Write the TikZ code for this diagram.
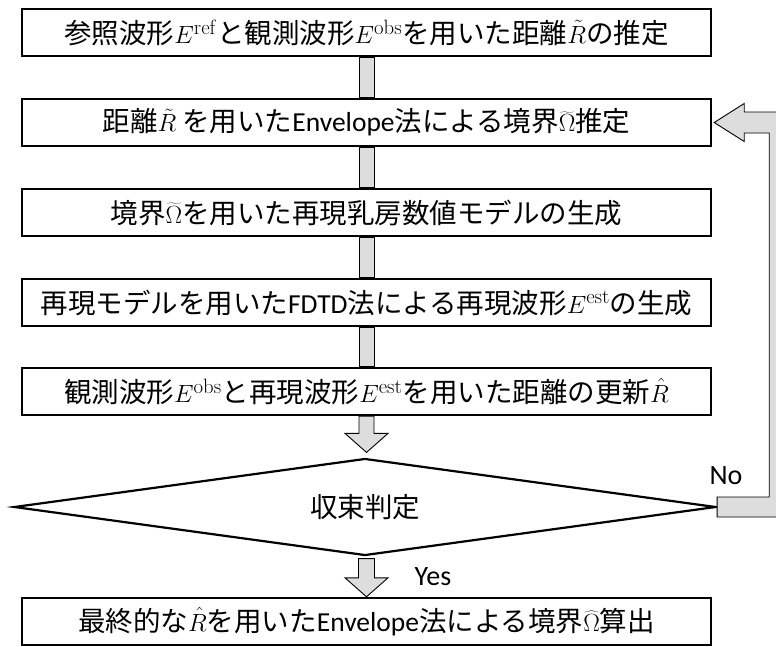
\documentclass[tikz,border=0pt]{standalone}
\usepackage[no-math]{fontspec}
\setmainfont{Carlito}
\newfontfamily\jp{Noto Sans CJK JP}
\newfontfamily\lat{Carlito}
\usetikzlibrary{calc,shapes.geometric}
\definecolor{shaftgray}{HTML}{DDDDDD}
\tikzset{
  stepbox/.style={draw, line width=2.4pt, minimum width=689pt, minimum height=47pt, inner sep=0pt, font=\jp\fontsize{27.5}{30}\selectfont},
  decision/.style={draw, shape=diamond, line width=2.2pt, minimum width=702pt, minimum height=97pt, aspect=7, inner sep=0pt, font=\jp\fontsize{27.5}{30}\selectfont},
  shaft/.style={draw, line width=0.9pt, fill=shaftgray, line join=miter},
  lbl/.style={font=\lat\fontsize{28}{30}\selectfont, inner sep=0pt}
}
\begin{document}
\begin{tikzpicture}[x=1pt,y=1pt]
\useasboundingbox (0,0) rectangle (776,-646);
\clip (0,0) rectangle (776,-646);
\node[stepbox] (b1) at (366.5,-32.5) {参照波形$E^{\mathrm{ref}}$と観測波形$E^{\mathrm{obs}}$を用いた距離$\tilde{R}$の推定};
\node[stepbox] (b2) at (366.5,-122.5) {距離$\tilde{R}$ を用いた{\lat Envelope}法による境界$\widetilde{\Omega}$推定};
\node[stepbox] (b3) at (366.5,-212.5) {境界$\widetilde{\Omega}$を用いた再現乳房数値モデルの生成};
\node[stepbox] (b4) at (366.5,-302.5) {再現モデルを用いた{\lat FDTD}法による再現波形$E^{\mathrm{est}}$の生成};
\node[stepbox] (b5) at (366.5,-391.5) {観測波形$E^{\mathrm{obs}}$と再現波形$E^{\mathrm{est}}$を用いた距離の更新$\hat{R}$};
\node[decision] (dia) at (365,-507) {収束判定};
\node[stepbox] (b6) at (366.5,-621.5) {最終的な$\hat{R}$を用いた{\lat Envelope}法による境界$\widehat{\Omega}$算出};
\node[lbl] (no) at (726,-476) {No};
\node[lbl] (yes) at (433,-577) {Yes};
% shafts between boxes
\foreach \a/\b in {b1/b2,b2/b3,b3/b4,b4/b5}{
  \draw[shaft] ([xshift=-7.5pt]\a.south) rectangle ([xshift=7.5pt]\b.north);
}
% block arrow b5 -> dia
\draw[shaft] let \p1=(b5.south), \p2=([yshift=5pt]dia.north) in
  (\x1-7.5pt,\y1) -- (\x1-7.5pt,\y2+19pt) -- (\x1-21.5pt,\y2+19pt) -- (\x1,\y2)
  -- (\x1+21.5pt,\y2+19pt) -- (\x1+7.5pt,\y2+19pt) -- (\x1+7.5pt,\y1) -- cycle;
% block arrow dia -> b6
\draw[shaft] let \p1=([yshift=-2pt]dia.south), \p2=(b6.north) in
  (\x2-8pt,\y1) -- (\x2-8pt,\y2+19pt) -- (\x2-21.5pt,\y2+19pt) -- (\x2,\y2)
  -- (\x2+21.5pt,\y2+19pt) -- (\x2+8pt,\y2+19pt) -- (\x2+8pt,\y1) -- cycle;
% feedback arrow dia -> b2
\draw[shaft] let \p1=(dia.east), \p2=([xshift=2pt]b2.east) in
  (\x1,\y1-10pt) -- (\x2+78pt,\y1-10pt) -- (\x2+78pt,\y2+10.5pt) -- (\x2+30pt,\y2+10.5pt)
  -- (\x2+30pt,\y2+19pt) -- (\x2,\y2) -- (\x2+30pt,\y2-19pt) -- (\x2+30pt,\y2-10.5pt)
  -- (\x2+55pt,\y2-10.5pt) -- (\x2+55pt,\y1+10pt) -- (\x1,\y1+10pt) -- cycle;
\end{tikzpicture}
\end{document}
